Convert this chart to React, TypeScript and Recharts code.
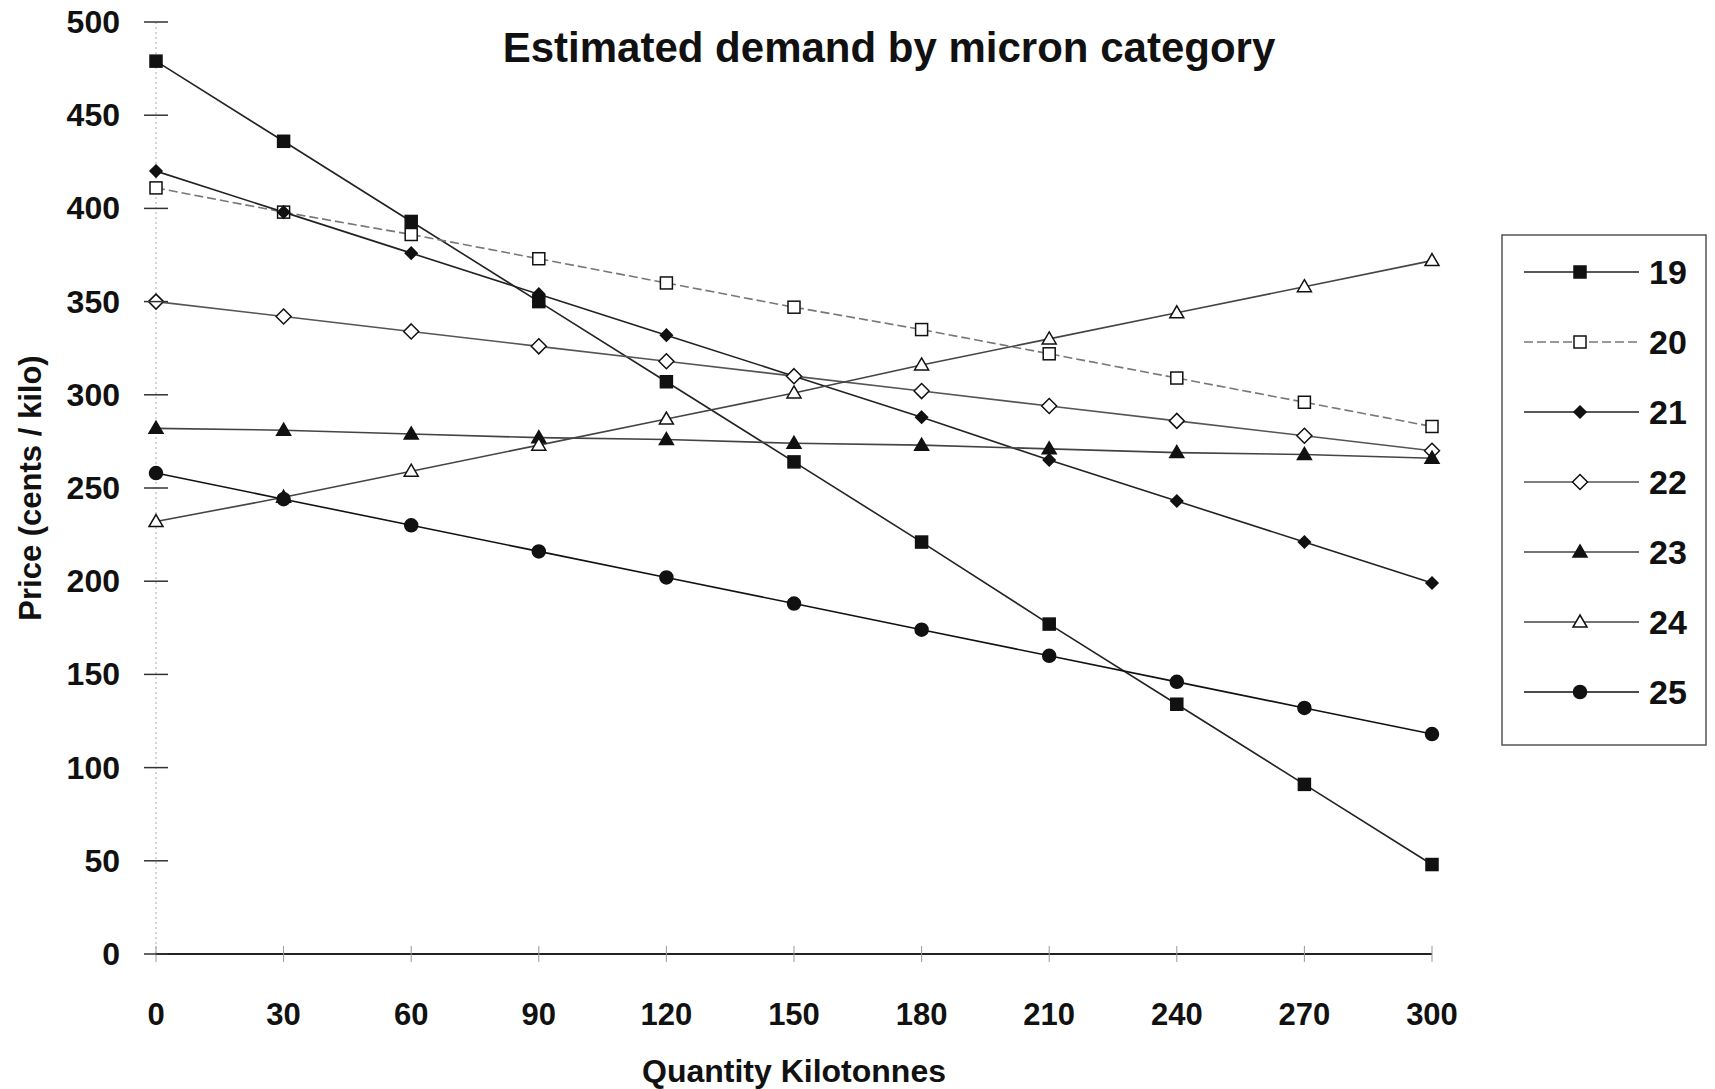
import { Line, LineChart, XAxis, YAxis } from "recharts";

const quantity = [0, 30, 60, 90, 120, 150, 180, 210, 240, 270, 300];
const priceTicks = [0, 50, 100, 150, 200, 250, 300, 350, 400, 450, 500];

const micron19 = [479, 436, 393, 350, 307, 264, 221, 177, 134, 91, 48];
const micron20 = [411, 398, 386, 373, 360, 347, 335, 322, 309, 296, 283];
const micron21 = [420, 398, 376, 354, 332, 310, 288, 265, 243, 221, 199];
const micron22 = [350, 342, 334, 326, 318, 310, 302, 294, 286, 278, 270];
const micron23 = [282, 281, 279, 277, 276, 274, 273, 271, 269, 268, 266];
const micron24 = [232, 245, 259, 273, 287, 301, 316, 330, 344, 358, 372];
const micron25 = [258, 244, 230, 216, 202, 188, 174, 160, 146, 132, 118];

type Shape = "square" | "diamond" | "triangle" | "circle";

const series: {
  key: string;
  name: string;
  values: number[];
  shape: Shape;
  filled: boolean;
  stroke: string;
  dash?: string;
}[] = [
  { key: "m19", name: "19", values: micron19, shape: "square", filled: true, stroke: "#222" },
  { key: "m20", name: "20", values: micron20, shape: "square", filled: false, stroke: "#777", dash: "9 4" },
  { key: "m21", name: "21", values: micron21, shape: "diamond", filled: true, stroke: "#222" },
  { key: "m22", name: "22", values: micron22, shape: "diamond", filled: false, stroke: "#555" },
  { key: "m23", name: "23", values: micron23, shape: "triangle", filled: true, stroke: "#444" },
  { key: "m24", name: "24", values: micron24, shape: "triangle", filled: false, stroke: "#444" },
  { key: "m25", name: "25", values: micron25, shape: "circle", filled: true, stroke: "#111" },
];

const data = quantity.map((q, i) => {
  const row: Record<string, number> = { q };
  series.forEach((s) => (row[s.key] = s.values[i]));
  return row;
});

const font = '"Liberation Sans", Arial, Helvetica, sans-serif';

function Marker({ shape, filled, cx, cy }: { shape: Shape; filled: boolean; cx: number; cy: number }) {
  const fill = filled ? "#111" : "#fff";
  const common = { fill, stroke: "#111", strokeWidth: 1.5 };
  if (shape === "square") {
    return <rect x={cx - 6} y={cy - 6} width={12} height={12} {...common} />;
  }
  if (shape === "diamond") {
    const r = filled ? 6 : 7.5;
    return <polygon points={`${cx},${cy - r} ${cx + r},${cy} ${cx},${cy + r} ${cx - r},${cy}`} {...common} />;
  }
  if (shape === "triangle") {
    return <polygon points={`${cx},${cy - 7} ${cx + 7},${cy + 5} ${cx - 7},${cy + 5}`} {...common} />;
  }
  return <circle cx={cx} cy={cy} r={6.5} {...common} />;
}

function YTick(props: any) {
  const { x, y, payload } = props;
  return (
    <g>
      <line x1={x - 12} x2={x + 12} y1={y} y2={y} stroke="#333" strokeWidth={1.5} />
      <text x={x - 36} y={y} textAnchor="end" dominantBaseline="central" fontFamily={font} fontWeight="bold" fontSize={32} fill="#111">
        {payload.value}
      </text>
    </g>
  );
}

function XTick(props: any) {
  const { x, y, payload } = props;
  return (
    <g>
      <line x1={x} x2={x} y1={y - 8} y2={y + 8} stroke="#999" strokeWidth={1} />
      <text x={x} y={y + 60} textAnchor="middle" dominantBaseline="central" fontFamily={font} fontWeight="bold" fontSize={31} fill="#111">
        {payload.value}
      </text>
    </g>
  );
}

function LegendBox() {
  const rowY = [272, 342, 412, 482, 552, 622, 692];
  return (
    <g>
      <rect x={1502} y={235} width={204} height={510} fill="none" stroke="#555" strokeWidth={1.5} />
      {series.map((s, i) => (
        <g key={s.key}>
          <line x1={1524} x2={1639} y1={rowY[i]} y2={rowY[i]} stroke={s.stroke} strokeWidth={1.6} strokeDasharray={s.dash} />
          <Marker shape={s.shape} filled={s.filled} cx={1580} cy={rowY[i]} />
          <text x={1649} y={rowY[i]} dominantBaseline="central" fontFamily={font} fontWeight="bold" fontSize={34} fill="#111">
            {s.name}
          </text>
        </g>
      ))}
    </g>
  );
}

export default function App() {
  return (
    <div style={{ position: "absolute", left: 0, top: 0, width: 1715, height: 1089, background: "#fff" }}>
      <LineChart width={1715} height={1089} data={data} margin={{ top: 22, right: 283, bottom: 0, left: 0 }}>
        <XAxis
          dataKey="q"
          type="number"
          domain={[0, 300]}
          ticks={quantity}
          height={135}
          tickSize={0}
          tickMargin={0}
          tickLine={false}
          tick={(p: any) => <XTick {...p} />}
          axisLine={{ stroke: "#222", strokeWidth: 2 }}
          label={{
            value: "Quantity Kilotonnes",
            position: "insideBottom",
            offset: 7,
            style: { fontFamily: font, fontWeight: "bold", fontSize: 32, fill: "#111" },
          }}
        />
        <YAxis
          type="number"
          domain={[0, 500]}
          ticks={priceTicks}
          width={156}
          tickSize={0}
          tickMargin={0}
          tickLine={false}
          tick={(p: any) => <YTick {...p} />}
          axisLine={{ stroke: "#aaa", strokeDasharray: "2 3" }}
          label={{
            value: "Price (cents / kilo)",
            angle: -90,
            position: "insideLeft",
            offset: 30,
            style: { textAnchor: "middle", fontFamily: font, fontWeight: "bold", fontSize: 31, fill: "#111" },
          }}
        />
        {series.map((s) => (
          <Line
            key={s.key}
            dataKey={s.key}
            name={s.name}
            stroke={s.stroke}
            strokeWidth={1.6}
            strokeDasharray={s.dash}
            isAnimationActive={false}
            activeDot={false}
            dot={(p: any) => (
              <Marker key={`${s.key}-${p.index}`} shape={s.shape} filled={s.filled} cx={p.cx} cy={p.cy} />
            )}
          />
        ))}
      </LineChart>
      <svg width={1715} height={1089} style={{ position: "absolute", left: 0, top: 0, pointerEvents: "none" }}>
        <text x={889} y={47} textAnchor="middle" dominantBaseline="central" fontFamily={font} fontWeight="bold" fontSize={42} fill="#111">
          Estimated demand by micron category
        </text>
        <LegendBox />
      </svg>
    </div>
  );
}
